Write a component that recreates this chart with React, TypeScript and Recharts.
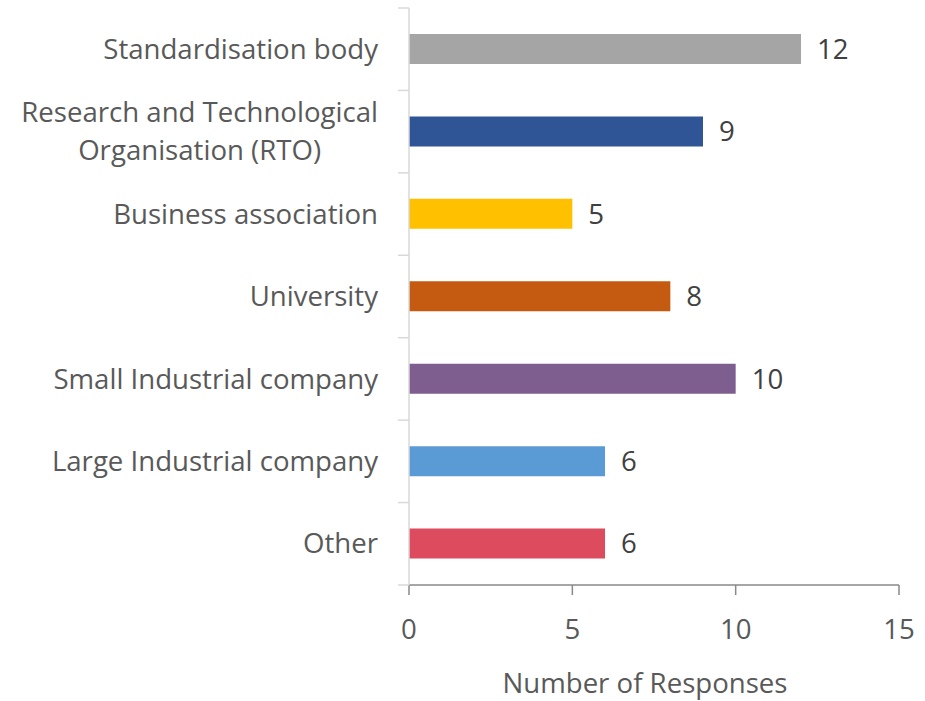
import { BarChart, Bar, XAxis, YAxis, Cell, LabelList } from 'recharts';

const categories = [
  'Standardisation body',
  'Research and Technological Organisation (RTO)',
  'Business association',
  'University',
  'Small Industrial company',
  'Large Industrial company',
  'Other',
];
const responses = [12, 9, 5, 8, 10, 6, 6];
const barColors = ['#A5A5A5', '#2F5597', '#FFC000', '#C55A11', '#7E5E8E', '#5B9BD5', '#DD4B5E'];
const xTicks = [0, 5, 10, 15];

const data = categories.map((name, i) => ({ name, value: responses[i] }));

const FONT = '"Open Sans", sans-serif';
const FONT_SIZE = 27.6;
const PLOT_TOP = 8;
const PLOT_BOTTOM = 585;
const BAND = (PLOT_BOTTOM - PLOT_TOP) / categories.length;
const LINE_HEIGHT = 38;

// simple word wrap, lines of at most 26 characters
function wrap(label: string, maxChars = 26) {
  const lines: string[] = [];
  let cur = '';
  for (const w of label.split(' ')) {
    const next = cur ? cur + ' ' + w : w;
    if (next.length > maxChars && cur) {
      lines.push(cur);
      cur = w;
    } else {
      cur = next;
    }
  }
  if (cur) lines.push(cur);
  return lines;
}

let ctx: CanvasRenderingContext2D | null = null;
function textWidth(s: string) {
  if (!ctx) ctx = document.createElement('canvas').getContext('2d');
  if (!ctx) return s.length * FONT_SIZE * 0.5;
  ctx.font = `${FONT_SIZE}px "Open Sans"`;
  return ctx.measureText(s).width;
}

function CategoryTick(props: any) {
  const { x, y, payload, index } = props;
  const axisX = x + 31;
  const boundary = y - BAND / 2;
  const lines = wrap(String(payload.value));
  const firstDy = -((lines.length - 1) * LINE_HEIGHT) / 2;
  // multi-line labels are centred on each other, block right-aligned
  const multi = lines.length > 1;
  const blockW = multi ? Math.max(...lines.map(textWidth)) : 0;
  const tx = multi ? x - blockW / 2 : x;
  return (
    <g>
      <line x1={axisX - 11} x2={axisX} y1={boundary} y2={boundary} stroke="#D9D9D9" strokeWidth={1.5} />
      {index === categories.length - 1 && (
        <line x1={axisX - 11} x2={axisX} y1={y + BAND / 2} y2={y + BAND / 2} stroke="#D9D9D9" strokeWidth={1.5} />
      )}
      <text
        x={tx}
        y={y + firstDy}
        textAnchor={multi ? 'middle' : 'end'}
        fill="#595959"
        fontSize={FONT_SIZE}
        fontFamily={FONT}
      >
        {lines.map((l, i) => (
          <tspan key={i} x={tx} dy={i === 0 ? '0.35em' : LINE_HEIGHT}>
            {l}
          </tspan>
        ))}
      </text>
    </g>
  );
}

export default function App() {
  return (
    <div style={{ position: 'absolute', left: 0, top: 0, width: 925, height: 701, background: '#fff' }}>
      <BarChart
        width={925}
        height={701}
        data={data}
        layout="vertical"
        margin={{ top: PLOT_TOP, right: 26, bottom: 0, left: 0 }}
      >
        <XAxis
          type="number"
          domain={[0, 15]}
          ticks={xTicks}
          height={116}
          stroke="#898989"
          strokeWidth={1.5}
          tickSize={10}
          tickMargin={24}
          tick={{ fill: '#595959', fontSize: FONT_SIZE, fontFamily: FONT }}
          label={{
            value: 'Number of Responses',
            position: 'insideBottom',
            offset: 8,
            dx: -9,
            fill: '#595959',
            fontSize: FONT_SIZE,
            fontFamily: FONT,
          }}
        />
        <YAxis
          type="category"
          dataKey="name"
          width={409}
          stroke="#D9D9D9"
          strokeWidth={1.5}
          tickLine={false}
          tickSize={11}
          tickMargin={20}
          interval={0}
          tick={<CategoryTick />}
        />
        <Bar dataKey="value" barSize={30} isAnimationActive={false}>
          {data.map((d, i) => (
            <Cell key={d.name} fill={barColors[i]} />
          ))}
          <LabelList dataKey="value" position="right" offset={16} fill="#404040" fontSize={FONT_SIZE} fontFamily={FONT} />
        </Bar>
      </BarChart>
    </div>
  );
}
